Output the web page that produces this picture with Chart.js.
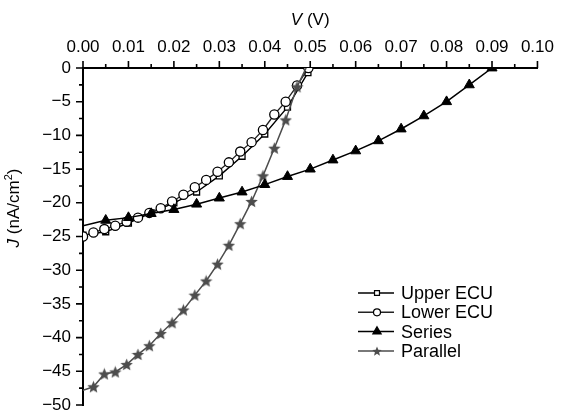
<!DOCTYPE html>
<html>
<head>
<meta charset="utf-8">
<script src="https://cdn.jsdelivr.net/npm/chart.js@4"></script>
<style>
  html, body { margin: 0; padding: 0; background: #fff; }
  #wrap { width: 564px; height: 411px; }
</style>
</head>
<body>
<div id="wrap"><canvas id="jvChart"></canvas></div>
<script>
// J-V curves of the two ECUs and their series / parallel connection
const seriesNames = ['Upper ECU', 'Lower ECU', 'Series', 'Parallel'];

const vUpper = [0, 0.005, 0.010, 0.015, 0.020, 0.025, 0.030, 0.035, 0.040, 0.045, 0.0495];
const jUpper = [-24.8, -24.3, -23.0, -21.5, -20.0, -18.4, -16.0, -13.1, -9.8, -5.8, -0.7];

const vLower = [0, 0.0023, 0.0047, 0.0071, 0.0096, 0.0121, 0.0146, 0.0171, 0.0196, 0.0221, 0.0246,
                0.0271, 0.0296, 0.0321, 0.0346, 0.0371, 0.0396, 0.0421, 0.0446, 0.0471, 0.0496];
const jLower = [-25.0, -24.4, -23.9, -23.4, -22.8, -22.2, -21.5, -20.8, -19.8, -18.8, -17.7,
                -16.6, -15.4, -14.0, -12.4, -11.0, -9.2, -6.9, -5.0, -2.6, 0];

const vSeries = [0, 0.005, 0.010, 0.015, 0.020, 0.025, 0.030, 0.035, 0.040, 0.045,
                 0.050, 0.055, 0.060, 0.065, 0.070, 0.075, 0.080, 0.085, 0.090];
const jSeries = [-23.4, -22.6, -22.2, -21.6, -21.0, -20.2, -19.3, -18.4, -17.3, -16.1,
                 -15.0, -13.65, -12.3, -10.8, -9.05, -7.1, -5.0, -2.5, 0];

const vParallel = [0, 0.0023, 0.0047, 0.0071, 0.0096, 0.0121, 0.0146, 0.0171, 0.0196, 0.0221, 0.0246,
                   0.0271, 0.0296, 0.0321, 0.0346, 0.0371, 0.0396, 0.0421, 0.0446, 0.0471, 0.0491];
const jParallel = [-47.8, -47.3, -45.4, -45.1, -44.0, -42.5, -41.2, -39.4, -37.8, -35.9, -33.7,
                   -31.6, -29.1, -26.3, -23.1, -19.8, -16.0, -11.9, -7.7, -2.8, 0];

const xTickLabels = ['0.00', '0.01', '0.02', '0.03', '0.04', '0.05', '0.06', '0.07', '0.08', '0.09', '0.10'];

const FONT = '"Liberation Sans", Arial, Helvetica, sans-serif';
const GREY = '#4d4d4d';

function toPoints(xs, ys) {
    return xs.map((v, i) => ({ x: v, y: ys[i] }));
}

// filled five point star used as marker
function makeStar(size, color) {
    const c = document.createElement('canvas');
    c.width = size; c.height = size;
    const g = c.getContext('2d');
    const cx = size / 2, cy = size / 2 + 0.6, ro = size / 2, ri = ro * 0.45;
    g.beginPath();
    for (let k = 0; k < 10; k++) {
        const r = k % 2 ? ri : ro;
        const a = -Math.PI / 2 + k * Math.PI / 5;
        g.lineTo(cx + r * Math.cos(a), cy + r * Math.sin(a));
    }
    g.closePath();
    g.fillStyle = color;
    g.fill();
    return c;
}
const starBig = makeStar(13, GREY);
const starSmall = makeStar(10, GREY);

// radius 0 for the points that are not marked in the figure
function hideEnds(n, r, first, last) {
    return Array.from({ length: n }, (_, i) => ((first && i === 0) || (last && i === n - 1)) ? 0 : r);
}

const datasets = [
    {
        label: seriesNames[0], data: toPoints(vUpper, jUpper), order: 3,
        borderColor: '#000', borderWidth: 1.4, pointStyle: 'rect', pointRadius: 4.2,
        pointBackgroundColor: '#fff', pointBorderColor: '#000', pointBorderWidth: 1.3,
        legendStyle: 'rect', legendRadius: 3.5
    },
    {
        label: seriesNames[1], data: toPoints(vLower, jLower), order: 2,
        borderColor: '#222', borderWidth: 1.3, pointStyle: 'circle', pointRadius: 4.6,
        pointBackgroundColor: '#fff', pointBorderColor: '#000', pointBorderWidth: 1.3,
        legendStyle: 'circle', legendRadius: 3.5
    },
    {
        label: seriesNames[2], data: toPoints(vSeries, jSeries), order: 0,
        borderColor: '#000', borderWidth: 1.5, pointStyle: 'triangle',
        pointRadius: hideEnds(vSeries.length, 5.8, true, false),
        pointBackgroundColor: '#000', pointBorderColor: '#000', pointBorderWidth: 1,
        legendStyle: 'triangle', legendRadius: 4.8
    },
    {
        label: seriesNames[3], data: toPoints(vParallel, jParallel), order: 1,
        borderColor: GREY, borderWidth: 1.5, pointStyle: starBig,
        pointRadius: hideEnds(vParallel.length, 6, true, true),
        pointBackgroundColor: GREY, pointBorderColor: GREY,
        legendStyle: starSmall, legendRadius: 5
    }
];

const decorations = {
    id: 'decorations',
    afterDraw(chart) {
        const { ctx, chartArea: a, scales: { x, y } } = chart;
        ctx.save();
        // major and minor tick marks, pointing outwards
        ctx.strokeStyle = '#000';
        ctx.lineWidth = 1.6;
        ctx.beginPath();
        for (let i = 0; i <= 20; i++) {
            const px = x.getPixelForValue(i * 0.005);
            const len = i % 2 ? 4 : 7;
            ctx.moveTo(px, a.top);
            ctx.lineTo(px, a.top - len);
        }
        for (let i = 0; i <= 20; i++) {
            const py = y.getPixelForValue(-i * 2.5);
            const len = i % 2 ? 4 : 7;
            ctx.moveTo(a.left, py);
            ctx.lineTo(a.left - len, py);
        }
        ctx.stroke();

        // axis titles (italic symbols)
        ctx.fillStyle = '#000';
        ctx.textBaseline = 'middle';
        ctx.font = 'italic 17px ' + FONT;
        const wV = ctx.measureText('V').width;
        ctx.font = '17px ' + FONT;
        const wRest = ctx.measureText(' (V)').width;
        let tx = (a.left + a.right) / 2 - (wV + wRest) / 2;
        ctx.font = 'italic 17px ' + FONT;
        ctx.fillText('V', tx, 20);
        ctx.font = '17px ' + FONT;
        ctx.fillText(' (V)', tx + wV, 20);

        ctx.translate(14, 208);
        ctx.rotate(-Math.PI / 2);
        const parts = [
            ['italic 17px ', 'J', 0],
            ['17px ', ' (nA/cm', 0],
            ['11px ', '2', -5],
            ['17px ', ')', 0]
        ];
        let total = 0;
        parts.forEach(p => { ctx.font = p[0] + FONT; total += ctx.measureText(p[1]).width; });
        let cx = -total / 2;
        parts.forEach(p => {
            ctx.font = p[0] + FONT;
            ctx.fillText(p[1], cx, p[2]);
            cx += ctx.measureText(p[1]).width;
        });
        ctx.restore();

        // legend: line with marker, then label
        ctx.save();
        const x0 = a.left + 275, x1 = a.left + 311, xm = a.left + 294, xt = a.left + 318;
        const rows = [293, 312.3, 331.6, 351];
        datasets.forEach((ds, i) => {
            const ry = rows[i];
            ctx.strokeStyle = ds.borderColor;
            ctx.lineWidth = 1.5;
            ctx.beginPath();
            ctx.moveTo(x0, ry);
            ctx.lineTo(x1, ry);
            ctx.stroke();
            ctx.fillStyle = ds.pointBackgroundColor;
            ctx.strokeStyle = ds.pointBorderColor;
            ctx.lineWidth = 1.2;
            Chart.helpers.drawPoint(ctx, {
                pointStyle: ds.legendStyle, radius: ds.legendRadius, rotation: 0, borderWidth: 1.2
            }, xm, ry);
            ctx.fillStyle = '#000';
            ctx.font = '18px ' + FONT;
            ctx.textBaseline = 'middle';
            ctx.fillText(ds.label, xt, ry + 1);
        });
        ctx.restore();
    }
};

const ctx = document.getElementById('jvChart').getContext('2d');
new Chart(ctx, {
    type: 'line',
    data: { datasets: datasets },
    options: {
        responsive: true,
        maintainAspectRatio: false,
        animation: false,
        layout: { autoPadding: false, padding: { top: 0, left: 0, right: 23, bottom: 6 } },
        elements: { line: { tension: 0, fill: false } },
        plugins: { legend: { display: false }, tooltip: { enabled: false } },
        scales: {
            x: {
                type: 'linear', position: 'top', min: 0, max: 0.1,
                afterFit: s => { s.height = 68; },
                grid: { drawOnChartArea: false, drawTicks: false },
                border: { display: true, color: '#000', width: 2 },
                ticks: {
                    stepSize: 0.01, padding: 10, color: '#000', maxRotation: 0,
                    font: { family: FONT, size: 17 },
                    callback: v => xTickLabels[Math.round(v * 100)]
                }
            },
            y: {
                type: 'linear', min: -50, max: 0,
                afterFit: s => { s.width = 83; s.paddingBottom = 0; s.paddingTop = 0; },
                grid: { drawOnChartArea: false, drawTicks: false },
                border: { display: true, color: '#000', width: 2 },
                ticks: {
                    stepSize: 5, padding: 12, color: '#000',
                    font: { family: FONT, size: 17, lineHeight: 0.7 },
                    callback: v => v === 0 ? '0' : '\u2212' + Math.abs(v)
                }
            }
        }
    },
    plugins: [decorations]
});
</script>
</body>
</html>
